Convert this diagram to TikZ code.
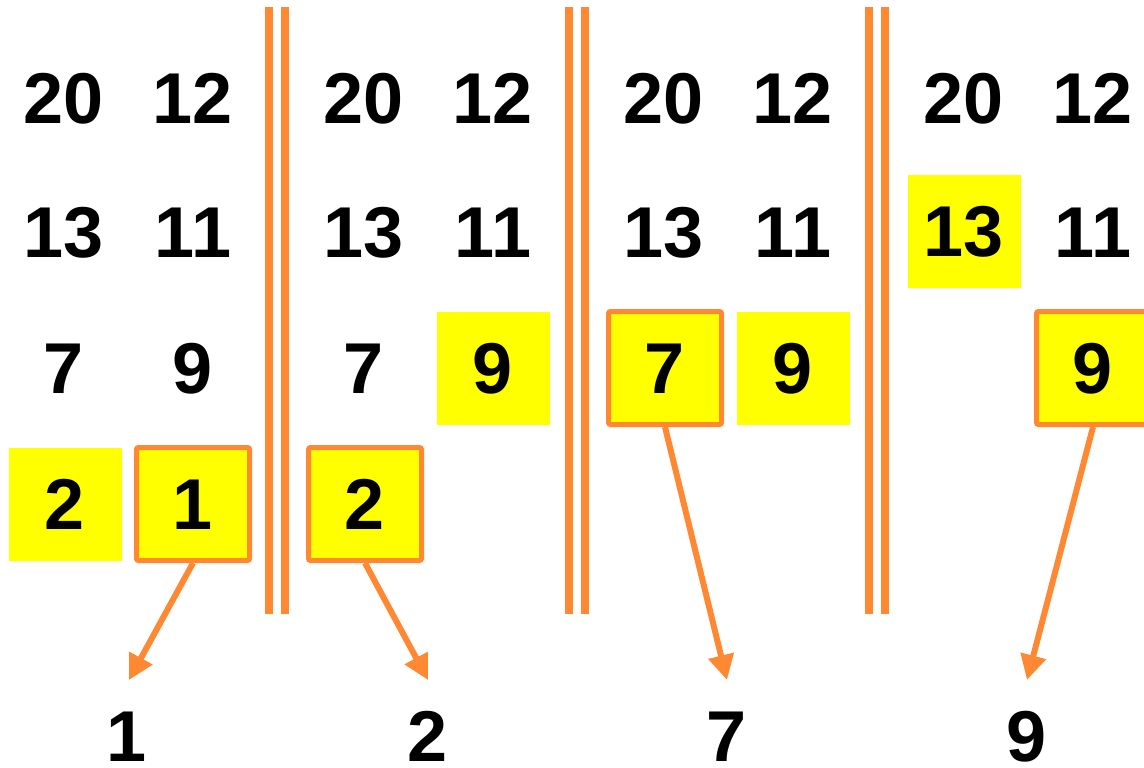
\documentclass[tikz,border=0pt]{standalone}
\usepackage{fontspec}
\setmainfont{Liberation Sans}
\usetikzlibrary{arrows.meta}
\definecolor{orng}{HTML}{FF8833}
\definecolor{yel}{HTML}{FFFF00}
\begin{document}
\begin{tikzpicture}[x=1pt,y=-1pt,
  num/.style={font=\fontsize{72}{78}\selectfont\bfseries, inner sep=0pt, text height=51.5pt, text depth=0pt},
  hl/.style={num, fill=yel, minimum width=113pt, minimum height=113pt},
  sel/.style={hl, draw=orng, line width=5pt, rounded corners=2pt},
  bar/.style={fill=orng},
  arr/.style={draw=orng, line width=6pt, -{Triangle[length=25pt,width=25pt]}}]
\useasboundingbox (0,0) rectangle (1144,768);
% separators
\foreach \o in {0,300,600} {
  \fill[bar] (265+\o,7) rectangle (273+\o,614);
  \fill[bar] (281+\o,7) rectangle (289+\o,614);
}
% panel 1
\node[num] (a20) at (64,98) {20};
\node[num] (a12) at (193,98) {12};
\node[num] (a13) at (64,232) {13};
\node[num] (a11) at (193,232) {11};
\node[num] (a7) at (64,368) {7};
\node[num] (a9) at (193,368) {9};
\node[hl] (a2) at (65,504) {2};
\node[sel] (a1) at (193,504) {1};
% panel 2
\node[num] (b20) at (364,98) {20};
\node[num] (b12) at (493,98) {12};
\node[num] (b13) at (364,232) {13};
\node[num] (b11) at (493,232) {11};
\node[num] (b7) at (364,368) {7};
\node[hl] (b9) at (493,368) {9};
\node[sel] (b2) at (365,504) {2};
% panel 3
\node[num] (c20) at (664,98) {20};
\node[num] (c12) at (793,98) {12};
\node[num] (c13) at (664,232) {13};
\node[num] (c11) at (793,232) {11};
\node[sel] (c7) at (665,368) {7};
\node[hl] (c9) at (793,368) {9};
% panel 4
\node[num] (d20) at (964,98) {20};
\node[num] (d12) at (1093,98) {12};
\node[hl] (d13) at (964,231) {13};
\node[num] (d11) at (1093,232) {11};
\node[sel] (d9) at (1093,368) {9};
% outputs
\node[num] (o1) at (127,736) {1};
\node[num] (o2) at (428,736) {2};
\node[num] (o3) at (727,736) {7};
\node[num] (o4) at (1027,736) {9};
\coordinate (t1) at (129,680);
\coordinate (t2) at (428,680);
\coordinate (t3) at (727,680);
\coordinate (t4) at (1027,680);
\draw[arr] (a1.south) -- (t1);
\draw[arr] (b2.south) -- (t2);
\draw[arr] (c7.south) -- (t3);
\draw[arr] (d9.south) -- (t4);
\end{tikzpicture}
\end{document}
